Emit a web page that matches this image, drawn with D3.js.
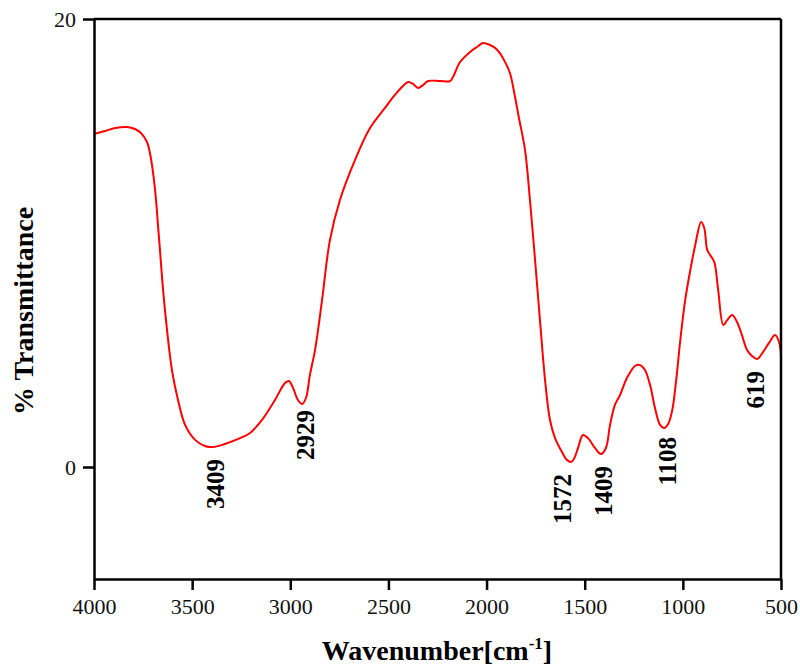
<!DOCTYPE html>
<html>
<head>
<meta charset="utf-8">
<script src="https://cdn.jsdelivr.net/npm/d3@7"></script>
<style>
  body { margin: 0; background: #fff; }
  svg { display: block; }
</style>
</head>
<body>
<svg id="chart" width="800" height="670"></svg>
<script>
// Wavenumber (cm-1) samples
const wavenumbers = [4000,3944,3893,3832,3791,3761,3730,3715,3699,3684,3674,3664,3648,3628,3603,3572,3536,3485,3435,3394,3333,3256,3205,3144,3078,3027,3007,2986,2961,2940,2920,2900,2874,2838,2798,2747,2670,2594,2518,2467,2426,2400,2375,2349,2324,2298,2237,2186,2171,2135,2084,2049,2018,1983,1957,1932,1906,1881,1855,1835,1804,1779,1753,1728,1702,1677,1651,1616,1590,1570,1555,1534,1509,1483,1448,1417,1392,1371,1346,1320,1285,1244,1218,1193,1167,1142,1116,1096,1075,1054,1034,1013,988,962,937,907,891,876,861,840,820,794,774,749,724,699,673,648,622,592,561,530,510,500];
// % Transmittance values
const transmittance = [14.87,15.0,15.13,15.18,15.09,14.91,14.51,14.02,13.13,11.92,10.8,9.69,7.9,6.12,4.33,2.99,1.88,1.21,0.94,0.89,1.03,1.29,1.52,2.1,2.99,3.75,3.84,3.53,2.99,2.81,3.08,4.11,5.22,7.46,10.13,11.92,13.71,15.13,16.03,16.61,17.01,17.19,17.1,16.92,17.05,17.23,17.23,17.23,17.41,18.08,18.53,18.75,18.93,18.84,18.71,18.48,18.08,17.59,16.52,15.58,14.15,11.92,9.24,6.56,3.88,2.1,1.29,0.67,0.31,0.22,0.36,0.85,1.43,1.29,0.85,0.58,0.85,1.88,2.77,3.21,3.97,4.51,4.55,4.33,3.66,2.63,1.88,1.74,1.92,2.54,3.88,5.67,7.46,8.79,9.91,10.94,10.67,9.69,9.46,9.15,7.9,6.34,6.56,6.79,6.47,5.89,5.22,4.96,4.82,5.13,5.54,5.89,5.58,5.0];
// Peak annotations
const peakLabels = ["3409","2929","1572","1409","1108","619"];
const peakLabelAt = [3384,2926,1613,1405,1079,631];
// Axis ticks
const xTicks = [4000,3500,3000,2500,2000,1500,1000,500];
const yTicks = [0,20];

const svg = d3.select("#chart");
const mLeft = 94, mRight = 781, mTop = 19, mBottom = 579;

const x = d3.scaleLinear().domain([4000, 500]).range([mLeft, mRight]);
const y = d3.scaleLinear().domain([-5, 20]).range([mBottom, mTop]);

const font = "'Liberation Serif', 'Times New Roman', serif";
const data = wavenumbers.map((w, i) => ({w, t: transmittance[i]}));

// Spectrum line
const line = d3.line().x(d => x(d.w)).y(d => y(d.t)).curve(d3.curveCatmullRom.alpha(0.5));
svg.append("path").datum(data)
  .attr("fill", "none").attr("stroke", "#ff0000").attr("stroke-width", 2)
  .attr("d", line);

// Frame (top and right)
svg.append("line").attr("x1", mLeft).attr("x2", mRight).attr("y1", mTop).attr("y2", mTop)
  .attr("stroke", "#000").attr("stroke-width", 2.5);
svg.append("line").attr("x1", mRight).attr("x2", mRight).attr("y1", mTop).attr("y2", mBottom)
  .attr("stroke", "#000").attr("stroke-width", 2.5);

// Bottom axis
const gx = svg.append("g").attr("transform", `translate(0,${mBottom})`)
  .call(d3.axisBottom(x).tickValues(xTicks).tickFormat(d3.format("d")).tickSize(11).tickSizeOuter(0).tickPadding(8));
// Left axis
const gy = svg.append("g").attr("transform", `translate(${mLeft},0)`)
  .call(d3.axisLeft(y).tickValues(yTicks).tickFormat(d3.format("d")).tickSize(11).tickSizeOuter(0).tickPadding(7));

[gx, gy].forEach(g => {
  g.select(".domain").attr("stroke", "#000").attr("stroke-width", 2.5);
  g.selectAll(".tick line").attr("stroke", "#000").attr("stroke-width", 2.5);
  g.selectAll(".tick text").attr("font-family", font).attr("font-size", 22).attr("fill", "#111");
});

// Axis titles
const xt = svg.append("text")
  .attr("x", 437).attr("y", 660)
  .attr("text-anchor", "middle")
  .attr("font-family", font).attr("font-weight", "bold").attr("font-size", 28).attr("fill", "#000");
xt.append("tspan").text("Wavenumber[cm");
xt.append("tspan").attr("dy", -11).attr("font-size", 17).text("-1");
xt.append("tspan").attr("dy", 11).text("]");

svg.append("text")
  .attr("transform", "translate(33,311) rotate(-90)")
  .attr("text-anchor", "middle")
  .attr("font-family", font).attr("font-weight", "bold").attr("font-size", 28).attr("fill", "#000")
  .text("% Transmittance");

// Peak labels: placed just below the curve at the labelled position
function curveAt(w) {
  let best = data[0];
  data.forEach(d => { if (Math.abs(d.w - w) < Math.abs(best.w - w)) best = d; });
  return best.t;
}
peakLabels.forEach((lab, i) => {
  const wpos = peakLabelAt[i];
  const peakW = +lab;
  const yTop = y(curveAt(peakW)) + 12;
  svg.append("text")
    .attr("transform", `translate(${x(wpos)},${yTop}) rotate(-90)`)
    .attr("text-anchor", "end")
    .attr("dy", "0.35em")
    .attr("font-family", font).attr("font-weight", "bold").attr("font-size", 25).attr("fill", "#000")
    .text(lab);
});
</script>
</body>
</html>
